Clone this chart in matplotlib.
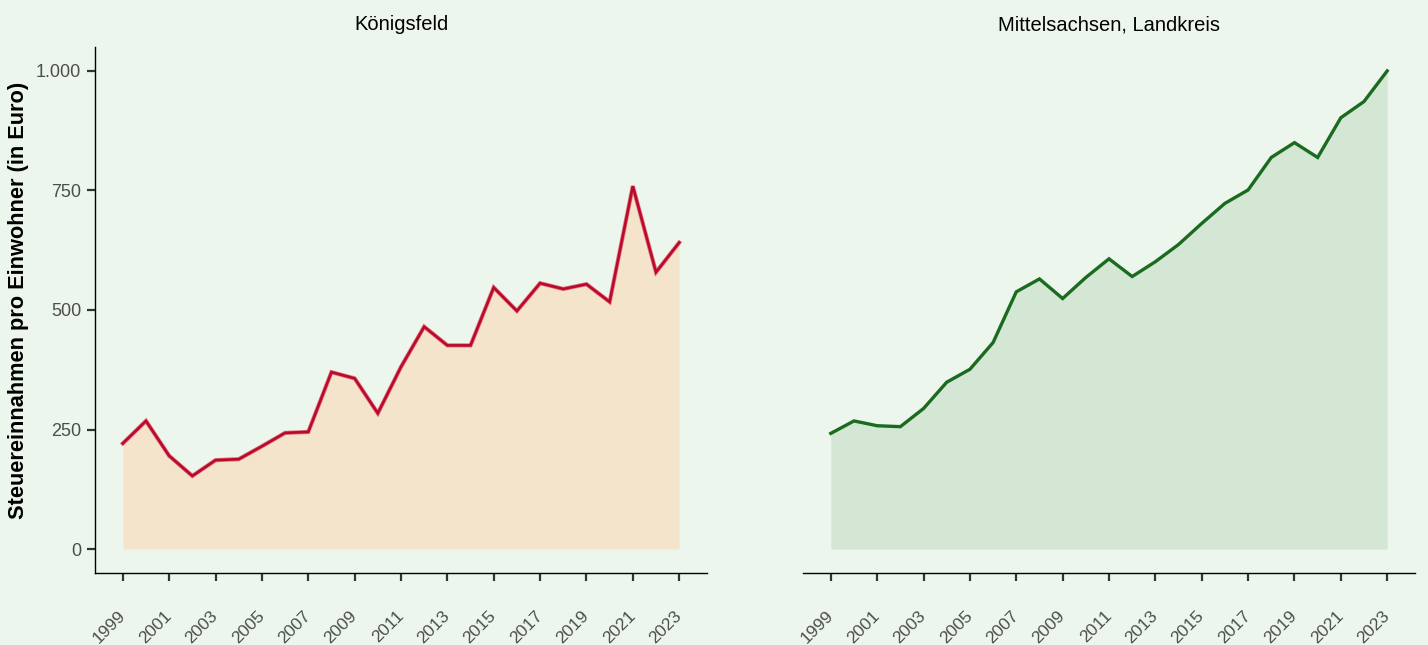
import matplotlib
matplotlib.use("Agg")
import matplotlib.pyplot as plt

years = list(range(1999, 2024))
koenigsfeld = [221, 268, 195, 153, 186, 188, 215, 243, 245, 370, 357, 284, 381,
               465, 426, 426, 547, 498, 556, 544, 554, 517, 759, 579, 641]
mittelsachsen = [242, 268, 258, 256, 294, 349, 376, 432, 538, 565, 524, 568, 607,
                 570, 601, 637, 681, 723, 751, 819, 850, 819, 902, 936, 1000]
titles = ["Königsfeld", "Mittelsachsen, Landkreis"]
ytick_vals = [0, 250, 500, 750, 1000]
ytick_labels = ["0", "250", "500", "750", "1.000"]
xtick_vals = list(range(1999, 2024, 2))

bg = "#EDF6EC"
plt.rcParams['font.family'] = ['Liberation Sans', 'DejaVu Sans']

fig = plt.figure(figsize=(14.28, 6.45), dpi=100, facecolor=bg)
ax1 = fig.add_axes([95/1428, 1-573/645, 612/1428, 526/645])
ax2 = fig.add_axes([803/1428, 1-573/645, 612/1428, 526/645])

styles = [
    dict(fill="#F5E4CC", line="#BA0A2C", edge="#E27080"),
    dict(fill="#D4E6D4", line="#1A6B1F", edge=None),
]

for ax, vals, title, st in zip([ax1, ax2], [koenigsfeld, mittelsachsen], titles, styles):
    ax.set_facecolor(bg)
    ax.fill_between(years, 0, vals, color=st["fill"], linewidth=0)
    if st["edge"]:
        ax.plot(years, vals, color=st["edge"], lw=3.0, solid_joinstyle="miter")
        ax.plot(years, vals, color=st["line"], lw=1.9, solid_joinstyle="miter")
    else:
        ax.plot(years, vals, color=st["line"], lw=2.4, solid_joinstyle="miter")
    ax.set_xlim(1997.8, 2024.2)
    ax.set_ylim(-50, 1050)
    ax.set_xticks(xtick_vals)
    ax.set_xticklabels([str(x) for x in xtick_vals], rotation=45, ha="right",
                       va="center", rotation_mode="anchor", color="#4D4D4D",
                       fontsize=12.5)
    ax.tick_params(axis="x", length=6, width=1.6, color="#333333", pad=23)
    ax.tick_params(axis="y", length=6, width=1.6, color="#333333", labelsize=13,
                   labelcolor="#4D4D4D", pad=4)
    for s in ["top", "right"]:
        ax.spines[s].set_visible(False)
    ax.spines["bottom"].set_color("black")
    ax.spines["left"].set_color("black")
    ax.spines["bottom"].set_linewidth(1.0)
    ax.spines["left"].set_linewidth(1.0)
    ax.set_title(title, fontsize=14.5, pad=12, color="black")

ax1.set_yticks(ytick_vals)
ax1.set_yticklabels(ytick_labels)
ax1.set_ylabel("Steuereinnahmen pro Einwohner (in Euro)", fontsize=15.7,
               fontweight="bold")
ax1.yaxis.set_label_coords((29 - 95) / 612, (573 - 300) / 526)
ax2.set_yticks([])
ax2.spines["left"].set_visible(False)

fig.savefig("out.png", dpi=100, facecolor=bg)
